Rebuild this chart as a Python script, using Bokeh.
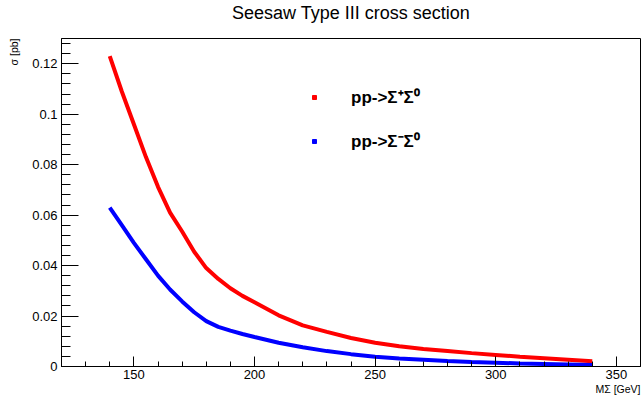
from bokeh.plotting import figure
from bokeh.models import Range1d, FixedTicker, Legend, LegendItem, Title
from bokeh.embed import file_html
from bokeh.resources import INLINE

# ---- data ----
mass = [140, 145, 150, 155, 160, 165, 170, 175, 180, 185, 190, 195, 200,
        210, 220, 230, 240, 250, 260, 270, 280, 290, 300, 310, 320, 330, 340]
xsec_plus = [0.123, 0.109, 0.096, 0.083, 0.0712, 0.061, 0.0535, 0.0455, 0.039,
             0.0347, 0.031, 0.028, 0.0255, 0.0203, 0.0163, 0.0137, 0.0113,
             0.0094, 0.0080, 0.0069, 0.0061, 0.0053, 0.0046, 0.0039, 0.0033,
             0.0027, 0.0021]
xsec_minus = [0.063, 0.056, 0.049, 0.0425, 0.036, 0.0305, 0.0258, 0.0215,
              0.018, 0.0157, 0.0142, 0.0129, 0.0117, 0.0094, 0.0076, 0.0061,
              0.0049, 0.0039, 0.0032, 0.0027, 0.0022, 0.0018, 0.0015, 0.0012,
              0.0010, 0.0008, 0.0006]

series_labels = ["pp->\u03a3\u207a\u03a3\u2070", "pp->\u03a3\u207b\u03a3\u2070"]
title_text = "Seesaw Type III cross section"
x_title = "M\u03a3 [GeV]"
y_title = "\u03c3 [pb]"

x_ticks = [150, 200, 250, 300, 350]
x_minor = list(range(120, 361, 10))
y_ticks = [0, 0.02, 0.04, 0.06, 0.08, 0.1, 0.12]
y_tick_labels = ["0", "0.02", "0.04", "0.06", "0.08", "0.1", "0.12"]
y_minor = [round(i * 0.004, 3) for i in range(33)]

X0, X1 = 120, 360
Y0, Y1 = 0.0, 0.13

# ---- layout ----
W, H = 641, 403
FONT = "Liberation Sans"

p = figure(width=W, height=H, x_range=Range1d(X0, X1), y_range=Range1d(Y0, Y1),
           output_backend="svg", toolbar_location=None,
           min_border_left=60, min_border_right=1,
           min_border_top=38, min_border_bottom=37,
           title_location=None)
p.grid.visible = False
p.outline_line_color = "black"
p.outline_line_width = 1
p.background_fill_color = "white"
p.border_fill_color = "white"

xa = p.xaxis[0]
xa.ticker = FixedTicker(ticks=x_ticks, minor_ticks=x_minor)
xa.major_tick_in = 10
xa.major_tick_out = 0
xa.minor_tick_in = 5
xa.minor_tick_out = 0
xa.major_label_standoff = 3
xa.major_label_text_font = FONT
xa.major_label_text_font_size = "13px"
xa.major_label_text_color = "black"
xa.axis_line_color = "black"
xa.major_tick_line_color = "black"
xa.minor_tick_line_color = "black"

ya = p.yaxis[0]
ya.ticker = FixedTicker(ticks=y_ticks, minor_ticks=y_minor)
ya.major_label_overrides = {t: l for t, l in zip(y_ticks, y_tick_labels)}
ya.major_tick_in = 17
ya.major_tick_out = 0
ya.minor_tick_in = 9
ya.minor_tick_out = 0
ya.major_label_standoff = 4
ya.major_label_text_font = FONT
ya.major_label_text_font_size = "13px"
ya.major_label_text_color = "black"
ya.axis_line_color = "black"
ya.major_tick_line_color = "black"
ya.minor_tick_line_color = "black"

r_plus = p.line(mass, xsec_plus, line_color="#ff0000", line_width=4)
r_minus = p.line(mass, xsec_minus, line_color="#0000ff", line_width=4)

# legend markers (small squares, as in the ROOT legend); no point drawn in the frame
nan = float("nan")
m_plus = p.scatter(x=[nan], y=[nan], marker="square", size=4, color="#ff0000")
m_minus = p.scatter(x=[nan], y=[nan], marker="square", size=4, color="#0000ff")

legend = Legend(items=[LegendItem(label=series_labels[0], renderers=[m_plus]),
                       LegendItem(label=series_labels[1], renderers=[m_minus])],
                location=(248, 214), orientation="vertical",
                glyph_width=10, glyph_height=20, label_height=20,
                label_standoff=32, spacing=21, padding=0, margin=0,
                border_line_alpha=0, background_fill_alpha=0,
                label_text_font=FONT, label_text_font_style="bold",
                label_text_font_size="17px", label_text_color="black")
p.add_layout(legend)

# titles in the side panels
# blank spacer between the frame and the title (first panel = nearest the frame)
p.add_layout(Title(text="\u00a0", standoff=3, text_font=FONT,
                   text_font_size="8px", text_color="white"), "above")
p.add_layout(Title(text=title_text, align="center", vertical_align="top",
                   standoff=0, text_font=FONT, text_font_size="18px",
                   text_font_style="normal", text_color="black"), "above")
p.add_layout(Title(text=y_title, align="right", vertical_align="top",
                   standoff=15, offset=0, text_font=FONT, text_font_size="10.5px",
                   text_font_style="normal", text_color="black"), "left")
p.add_layout(Title(text=x_title, align="right", vertical_align="top",
                   standoff=3, offset=0, text_font=FONT, text_font_size="10.5px",
                   text_font_style="normal", text_color="black"), "below")

open("out.html", "w").write(file_html(p, INLINE))
